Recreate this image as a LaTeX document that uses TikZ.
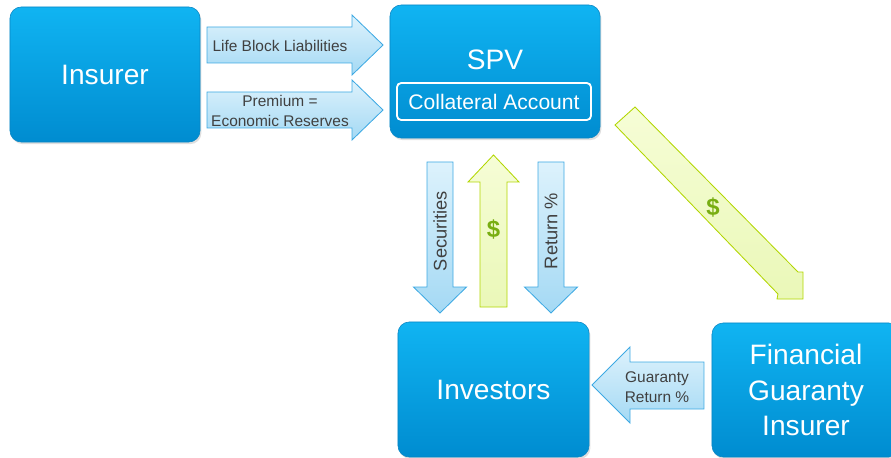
\documentclass[tikz,border=0pt]{standalone}
\usepackage{fontspec}
\setmainfont{Liberation Sans}
\usetikzlibrary{shadows}

\definecolor{boxtop}{HTML}{10B4F2}
\definecolor{boxbot}{HTML}{008CD0}
\definecolor{boxedge}{HTML}{0A86C4}
\definecolor{arrowtop}{HTML}{DDF2FC}
\definecolor{arrowbot}{HTML}{A4D9F4}
\definecolor{arrowedge}{HTML}{3DA9E3}
\definecolor{limetop}{HTML}{F6FDD6}
\definecolor{limebot}{HTML}{EAF8B8}
\definecolor{limeedge}{HTML}{B2D600}
\definecolor{dollargreen}{HTML}{78AE12}
\definecolor{labelgray}{HTML}{404040}

\tikzset{
  box/.style={draw=boxedge, line width=0.4pt, rounded corners=8pt,
    top color=boxtop, bottom color=boxbot, text=white, align=center,
    font=\fontsize{20}{25}\selectfont, inner sep=0pt,
    drop shadow={opacity=0.25, shadow xshift=1pt, shadow yshift=-1.5pt}},
  boxtext/.style={text=white, font=\fontsize{20}{25}\selectfont, inner sep=0pt},
  account/.style={draw=white, line width=1.3pt, rounded corners=3pt,
    text=white, font=\fontsize{15}{18}\selectfont, inner sep=0pt,
    minimum width=4.85cm, minimum height=0.925cm},
  bluearrow/.style={draw=arrowedge, line width=0.6pt, top color=arrowtop, bottom color=arrowbot},
  limearrow/.style={draw=limeedge, line width=0.6pt, top color=limetop, bottom color=limebot},
  arrowtext/.style={text=labelgray, font=\fontsize{11}{14}\selectfont, align=center, inner sep=0pt},
  sidetext/.style={text=labelgray, font=\fontsize{13}{15}\selectfont, rotate=90, inner sep=0pt},
  dollar/.style={text=dollargreen, font=\fontsize{17}{17}\selectfont\bfseries, inner sep=0pt},
}

\begin{document}
\begin{tikzpicture}[x=0.025cm, y=-0.025cm]
    \useasboundingbox (0,0) rectangle (891,458);

    % Blocks
    \node[box, minimum width=4.75cm, minimum height=3.375cm] (insurer) at (105,74.5) {Insurer};
    \node[box, minimum width=5.25cm, minimum height=3.325cm] (spv) at (495,71.5) {};
    \node[boxtext] (spvname) at (495,60) {SPV};
    \node[account] (acct) at (494,101.5) {Collateral Account};
    \node[box, minimum width=4.775cm, minimum height=3.375cm] (investors) at (493.5,389.5) {Investors};
    \node[box, minimum width=4.7cm, minimum height=3.35cm] (fgi) at (806,390) {Financial\\Guaranty\\Insurer};

    % Insurer -> SPV
    \foreach \cy/\nm/\txt in {45/life/{Life Block Liabilities}, 110/prem/{Premium =\\Economic Reserves}}
    {
        \draw[bluearrow] (207,\cy-18) -- (352,\cy-18) -- (352,\cy-30) -- (383,\cy)
            -- (352,\cy+30) -- (352,\cy+18) -- (207,\cy+18) -- cycle;
        \node[arrowtext] (\nm) at (280,\cy+1) {\txt};
    }

    % SPV -> Investors
    \foreach \cx/\nm/\txt in {440/sec/Securities, 551/ret/{Return \%}}
    {
        \draw[bluearrow] (\cx-13,162) -- (\cx+13,162) -- (\cx+13,287) -- (\cx+26.5,287)
            -- (\cx,313) -- (\cx-26.5,287) -- (\cx-13,287) -- cycle;
        \node[sidetext] (\nm) at (\cx,231) {\txt};
    }

    % Investors -> SPV
    \draw[limearrow] (480,307) -- (480,182) -- (468,182) -- (493.5,155)
        -- (519,182) -- (507,182) -- (507,307) -- cycle;
    \node[dollar] (pay) at (493.5,230) {\$};

    % SPV -> Financial Guaranty Insurer
    \draw[limearrow] (615,125) -- (635,107) -- (798,272) -- (803,272)
        -- (803,299) -- (777,299) -- (778,294) -- cycle;
    \node[dollar] (fee) at (713,208) {\$};

    % Financial Guaranty Insurer -> Investors
    \draw[bluearrow] (704,362) -- (704,409) -- (630,409) -- (630,423)
        -- (592,385) -- (630,347) -- (630,362) -- cycle;
    \node[arrowtext] (guar) at (657,387) {Guaranty\\Return \%};
\end{tikzpicture}
\end{document}
